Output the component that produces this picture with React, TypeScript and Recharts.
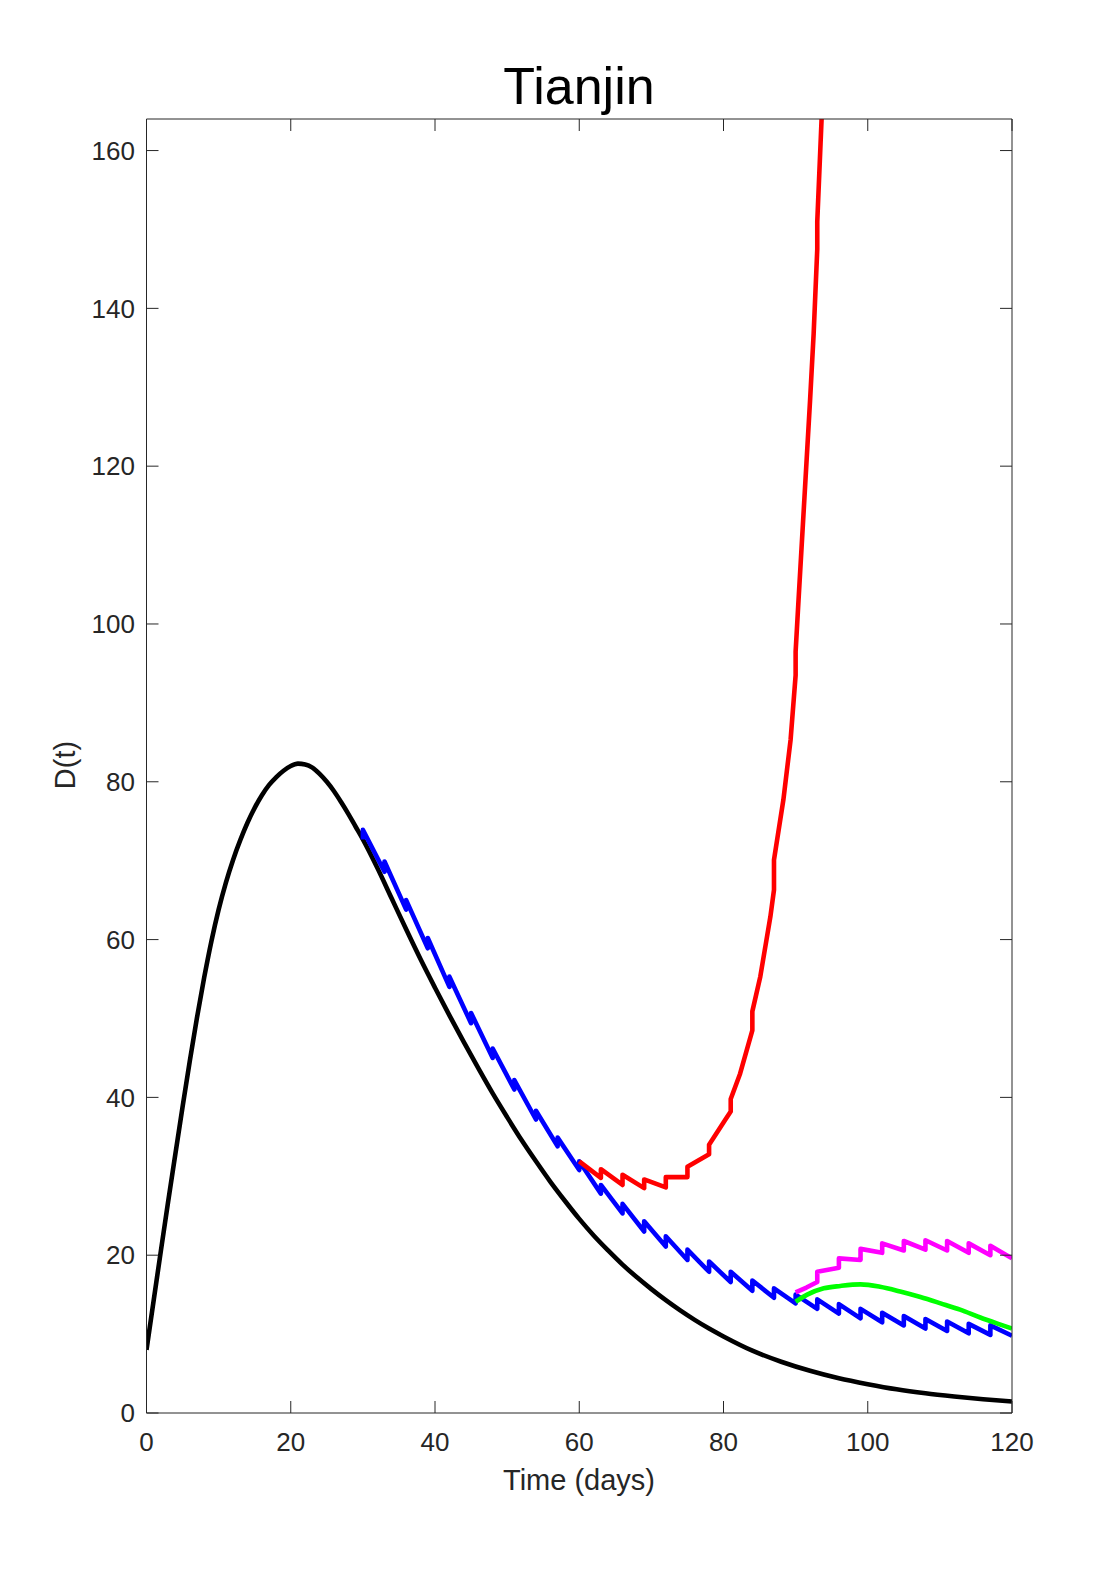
import { Line, LineChart, XAxis, YAxis } from "recharts";

const FONT = '"Liberation Sans", Arial, Helvetica, sans-serif';
const AXIS = "#262626";

const xTicks = [0, 20, 40, 60, 80, 100, 120];
const yTicks = [0, 20, 40, 60, 80, 100, 120, 140, 160];

// no control
const blackDays = [
  0, 1, 2, 3, 4, 5, 6, 7, 8, 9, 10, 11, 12, 13, 14, 15, 16, 17, 18, 19, 20, 21,
  22, 23, 24, 25, 26, 27, 28, 29, 30, 32, 34, 36, 38, 40, 42, 44, 46, 48, 50,
  52, 54, 56, 58, 60, 62, 64, 66, 68, 70, 72, 74, 76, 78, 80, 84, 88, 92, 96,
  100, 104, 108, 112, 116, 120,
];
const blackValues = [
  8.0, 14.3, 20.6, 26.8, 32.8, 38.8, 44.6, 50.1, 55.2, 59.8, 63.8, 67.2, 70.1,
  72.6, 74.8, 76.7, 78.3, 79.6, 80.6, 81.4, 82.0, 82.3, 82.2, 81.8, 81.0, 80.0,
  78.8, 77.4, 75.9, 74.3, 72.7, 69.1, 65.2, 61.3, 57.5, 53.9, 50.4, 47.0, 43.7,
  40.5, 37.5, 34.6, 31.9, 29.3, 26.9, 24.6, 22.5, 20.6, 18.8, 17.2, 15.7, 14.3,
  13.0, 11.8, 10.7, 9.7, 7.9, 6.5, 5.35, 4.4, 3.65, 3.0, 2.5, 2.1, 1.75, 1.45,
];

// pulses every 3 days from day 30
const blueDays = [
  30, 30, 33, 33, 36, 36, 39, 39, 42, 42, 45, 45, 48, 48, 51, 51, 54, 54, 57,
  57, 60, 60, 63, 63, 66, 66, 69, 69, 72, 72, 75, 75, 78, 78, 81, 81, 84, 84,
  87, 87, 90, 90, 93, 93, 96, 96, 99, 99, 102, 102, 105, 105, 108, 108, 111,
  111, 114, 114, 117, 117, 120,
];
const blueValues = [
  72.7, 73.9, 68.6, 69.9, 63.8, 65.0, 58.9, 60.2, 54.0, 55.3, 49.4, 50.7, 45.0,
  46.2, 41.0, 42.2, 37.2, 38.3, 33.8, 34.9, 30.8, 31.9, 27.8, 28.9, 25.3, 26.5,
  23.0, 24.3, 21.1, 22.4, 19.4, 20.7, 17.9, 19.2, 16.6, 17.9, 15.5, 16.8, 14.6,
  15.8, 13.9, 15.0, 13.2, 14.4, 12.6, 13.8, 12.0, 13.2, 11.5, 12.7, 11.1, 12.3,
  10.7, 11.9, 10.4, 11.6, 10.1, 11.3, 9.9, 11.1, 9.8,
];

const redDays = [
  60, 63, 63, 66, 66, 69, 69, 72, 72, 75, 75, 78, 78, 80.2, 81, 81, 82.3, 84,
  84, 85.1, 86.5, 87, 87, 88.3, 89.3, 90, 90, 90.4, 92, 92.5, 93, 93, 93.6,
];
const redValues = [
  31.9, 29.8, 30.9, 28.9, 30.2, 28.5, 29.6, 28.6, 29.9, 29.9, 31.2, 32.8, 34.0,
  37.1, 38.2, 39.8, 43.0, 48.5, 50.9, 55.3, 62.9, 66.3, 70.1, 77.7, 85.3, 93.5,
  96.5, 103.0, 128.3, 136.8, 147.5, 151.0, 164.0,
];

const magentaDays = [
  90, 91.5, 93, 93, 96, 96, 99, 99, 102, 102, 105, 105, 108, 108, 111, 111, 114,
  114, 117, 117, 120,
];
const magentaValues = [
  15.3, 15.9, 16.6, 17.9, 18.4, 19.6, 19.4, 20.8, 20.3, 21.5, 20.6, 21.8, 20.7,
  21.9, 20.6, 21.8, 20.3, 21.5, 20.0, 21.2, 19.6,
];

const greenDays = [
  90, 91.6, 93.9, 96.2, 99, 101.7, 104.5, 107.3, 110.1, 112.8, 115.6, 118.4, 120,
];
const greenValues = [
  14.1, 15.0, 15.8, 16.1, 16.3, 16.0, 15.4, 14.7, 13.9, 13.1, 12.1, 11.2, 10.7,
];

const toPoints = (days: number[], values: number[]) =>
  days.map((t, i) => ({ t, v: values[i] }));

const series = [
  { key: "black", color: "#000000", data: toPoints(blackDays, blackValues), type: "monotone" },
  { key: "blue", color: "#0000ff", data: toPoints(blueDays, blueValues), type: "linear" },
  { key: "red", color: "#ff0000", data: toPoints(redDays, redValues), type: "linear" },
  { key: "magenta", color: "#ff00ff", data: toPoints(magentaDays, magentaValues), type: "linear" },
  { key: "green", color: "#00ff00", data: toPoints(greenDays, greenValues), type: "monotone" },
];

const tickStyle = { fill: AXIS, fontSize: 26, fontFamily: FONT };
const noLabel = () => "";

export default function App() {
  return (
    <div
      style={{
        position: "absolute",
        left: 0,
        top: 0,
        width: 1120,
        height: 1589,
        background: "#fff",
      }}
    >
      <LineChart
        width={1120}
        height={1589}
        margin={{ top: 118, right: 107, bottom: 116, left: 86.5 }}
      >
        <XAxis
          xAxisId="b"
          type="number"
          dataKey="t"
          domain={[0, 120]}
          ticks={xTicks}
          height={60}
          tickSize={-12}
          tickMargin={32}
          stroke={AXIS}
          tick={tickStyle}
          allowDataOverflow
        />
        <XAxis
          xAxisId="t"
          orientation="top"
          type="number"
          dataKey="t"
          domain={[0, 120]}
          ticks={xTicks}
          height={1}
          tickSize={-12}
          tick={tickStyle}
          tickFormatter={noLabel}
          stroke={AXIS}
          allowDataOverflow
        />
        <YAxis
          yAxisId="l"
          type="number"
          domain={[0, 164]}
          ticks={yTicks}
          width={60}
          tickSize={-12}
          tickMargin={23.5}
          stroke={AXIS}
          tick={tickStyle}
          allowDataOverflow
        />
        <YAxis
          yAxisId="r"
          orientation="right"
          type="number"
          domain={[0, 164]}
          ticks={yTicks}
          width={1}
          tickSize={-12}
          tick={tickStyle}
          tickFormatter={noLabel}
          stroke={AXIS}
          allowDataOverflow
        />
        {series.map((s) => (
          <Line
            key={s.key}
            xAxisId="b"
            yAxisId="l"
            data={s.data}
            dataKey="v"
            type={s.type as "linear" | "monotone"}
            stroke={s.color}
            strokeWidth={4.6}
            strokeLinejoin="round"
            dot={false}
            activeDot={false}
            isAnimationActive={false}
          />
        ))}
      </LineChart>
      <svg
        width={1120}
        height={1589}
        style={{ position: "absolute", left: 0, top: 0, pointerEvents: "none" }}
      >
        <text
          x={579}
          y={103.5}
          textAnchor="middle"
          fontFamily={FONT}
          fontSize={52}
          fill="#000"
        >
          Tianjin
        </text>
        <text
          x={579}
          y={1490}
          textAnchor="middle"
          fontFamily={FONT}
          fontSize={29}
          fill={AXIS}
        >
          Time (days)
        </text>
        <text
          x={75}
          y={765}
          transform="rotate(-90 75 765)"
          textAnchor="middle"
          fontFamily={FONT}
          fontSize={29}
          fill={AXIS}
        >
          D(t)
        </text>
      </svg>
    </div>
  );
}
